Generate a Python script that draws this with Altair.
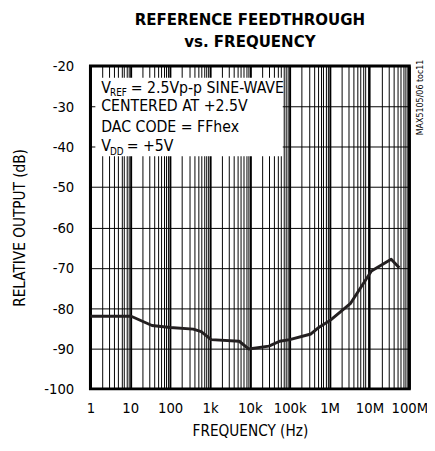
import altair as alt
import pandas as pd

# ---- data ----
freq_hz = [1, 10.5, 35, 100, 380, 600, 1070, 5400, 9300, 30000, 56000,
           100000, 340000, 500000, 1070000, 3300000, 11200000, 35000000, 56000000]
rel_out_db = [-82, -82, -84.3, -84.8, -85.2, -85.8, -87.8, -88.2, -90.1, -89.4, -88.2,
              -87.8, -86.4, -85, -82.9, -78.9, -70.8, -67.9, -70]

decades = [1, 10, 100, 1000, 10000, 100000, 1000000, 10000000, 100000000]
decade_labels = ["1", "10", "100", "1k", "10k", "100k", "1M", "10M", "100M"]
y_ticks = [-100, -90, -80, -70, -60, -50, -40, -30, -20]

minor_values = [k * d for d in decades[:-1] for k in range(1, 10)] + [decades[-1]]

FONT = "Liberation Sans Narrow, DejaVu Sans Condensed, sans-serif"

label_expr = " : ".join(
    f"datum.value == {d} ? '{l}'" for d, l in zip(decades, decade_labels)
) + " : ''"
decade_test = "indexof([" + ",".join(str(d) for d in decades) + "], datum.value) >= 0"

df = pd.DataFrame({"f": freq_hz, "db": rel_out_db})
one = pd.DataFrame({"k": [0]})

W, H = 325, 329

x_enc = alt.X(
    "f:Q",
    scale=alt.Scale(type="log", domain=[1, 1e8], nice=False),
    axis=alt.Axis(
        values=minor_values, labelExpr=label_expr, title="FREQUENCY (Hz)",
        grid=True, gridColor="black",
        gridWidth={"condition": {"test": decade_test, "value": 2}, "value": 1},
        ticks=False, domain=False, labelOverlap=False, labelFlush=False,
        labelPadding=12, titlePadding=9,
    ),
)
y_enc = alt.Y(
    "db:Q",
    scale=alt.Scale(domain=[-100, -20], nice=False, zero=False),
    axis=alt.Axis(
        values=y_ticks, labelExpr="'' + datum.value", title="RELATIVE OUTPUT (dB)",
        grid=True, gridColor="black", gridWidth=1, ticks=False, domain=False,
        labelPadding=17, titleX=-72, titleY=H / 2, titleAlign="center",
        titleBaseline="middle", titleAngle=270,
    ),
)

line = alt.Chart(df).mark_line(color="#231f20", strokeWidth=3, strokeJoin="round").encode(
    x=x_enc, y=y_enc
)

box = alt.Chart(one).mark_rect(fill="white").encode(
    x=alt.value(5), x2=alt.value(196), y=alt.value(12), y2=alt.value(92)
)

def txt(s, x, y, size=16):
    return alt.Chart(one).mark_text(
        text=s, align="left", baseline="alphabetic", font=FONT, fontSize=size, color="black"
    ).encode(x=alt.value(x), y=alt.value(y))

annot = [
    txt("V", 11, 27), txt("REF", 20, 31, 10), txt("= 2.5Vp-p SINE-WAVE", 41, 27),
    txt("CENTERED AT +2.5V", 11, 46),
    txt("DAC CODE = FFhex", 11, 67),
    txt("V", 11, 87), txt("DD", 20, 91, 10), txt("= +5V", 37, 87),
]

side = alt.Chart(one).mark_text(
    text="MAX5105/06 toc11", angle=270, align="center", baseline="middle",
    font=FONT, fontSize=9, color="black"
).encode(x=alt.value(W + 11), y=alt.value(32))

chart = alt.layer(box, *annot, line, side).properties(
    width=W, height=H,
    title=alt.TitleParams(
        ["REFERENCE FEEDTHROUGH", "vs. FREQUENCY"], font=FONT, fontSize=17,
        fontWeight="bold", anchor="middle", offset=8, lineHeight=23, color="black",
    ),
    autosize=alt.AutoSizeParams(type="none"),
    padding={"left": 84, "top": 55, "right": 18, "bottom": 50},
).configure_view(stroke="black", strokeWidth=3).configure_axis(
    labelFont=FONT, titleFont=FONT, labelFontSize=15, titleFontSize=15.5,
    labelColor="black", titleColor="black", titleFontWeight="normal",
)

chart.save("out.html", embed_options={"renderer": "svg", "actions": False})
